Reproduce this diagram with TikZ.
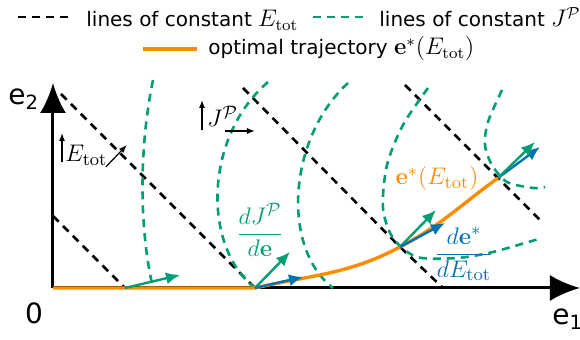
\documentclass[tikz,border=0pt]{standalone}
\usepackage[no-math]{fontspec}
\setmainfont{DejaVu Sans}
\usepackage{amsmath,amssymb}
\usepackage{tikz}
\usetikzlibrary{positioning,arrows.meta,calc}
\usepackage{xcolor}
\definecolor{plotgreen}{HTML}{009E73}
\definecolor{plotblue}{HTML}{0072B2}
\definecolor{plotorange}{HTML}{FF8C00}
\newcommand{\bigmath}[1]{{\fontsize{12}{14}\selectfont$#1$}}

\begin{document}
\begin{tikzpicture}[
    x=0.5pt, y=0.5pt,
    axis/.style={line width=1.5pt, -{Latex[length=15pt, width=13pt]}},
    edash/.style={dash pattern=on 4pt off 3pt, line width=1.3pt},
    jdash/.style={edash, plotgreen},
    traj/.style={line width=1.7pt, plotorange},
    garrow/.style={line width=1.2pt, plotgreen, -{Latex[length=7pt, width=6pt]}},
    barrow/.style={garrow, plotblue},
    tick/.style={line width=0.6pt, -{Latex[length=4pt, width=3pt]}},
    legtxt/.style={font=\fontsize{10}{12}\selectfont, inner sep=0pt, anchor=base west},
    lbl/.style={font=\fontsize{13}{15}\selectfont, inner sep=0pt},
    axlbl/.style={font=\fontsize{14}{16}\selectfont, inner sep=0pt},
]
\useasboundingbox (-53,-52) rectangle (527,288);

% legend
\node[legtxt] (legE) at (33,261) {lines of constant \bigmath{E_{\mathrm{tot}}}};
\node[legtxt] (legJ) at (326,261) {lines of constant \bigmath{J^{\mathcal{P}}}};
\node[legtxt] (legT) at (155,233) {optimal trajectory \bigmath{\mathbf{e}^*(E_{\mathrm{tot}})}};
\draw[edash] (-35,271) -- (17,271);
\draw[jdash] (260,271) -- (315,271);
\draw[traj] (90,239) -- (144,239);

% axes
\coordinate (O) at (0,0);
\coordinate (xend) at (527,0);
\coordinate (yend) at (0,205);
\draw[axis] (O) -- (xend);
\draw[axis] (O) -- (yend);
\node[axlbl, anchor=base west] (e1lbl) at (499,-37) {e\textsubscript{1}};
\node[axlbl, anchor=base west] (e2lbl) at (-45,183) {e\textsubscript{2}};
\node[axlbl] (zero) at (-19,-25) {0};

% points on the trajectory
\coordinate (T0) at (72,0);
\coordinate (T1) at (202,0);
\coordinate (T2) at (347,41);
\coordinate (T3) at (445,110);

% lines of constant E_tot
\draw[edash] (0,72) -- (T0);
\draw[edash] (8,194) -- (T1);
\draw[edash] (190,200) -- (T2) -- (390,0);
\draw[edash] (352,203) -- (T3) -- (489,66);

% lines of constant J
\draw[jdash] (100,208) .. controls (86,140) and (86,60) .. (100,0);
\draw[jdash] (215,206) .. controls (150,150) and (150,40) .. (T1);
\draw[jdash] (295,205) .. controls (235,150) and (228,40) .. (280,0);
\draw[jdash] plot[smooth] coordinates {(375,200) (350,163) (334,123) (330,80) (340,50) (364,31) (404,30) (440,36) (489,50)};
\draw[jdash] plot[smooth] coordinates {(449,198) (435,166) (432,143) (439,123) (454,106) (480,100) (492,101)};

% optimal trajectory
\draw[traj] (O) -- (T1) to[out=13, in=208] (T2) to[out=28, in=216] (T3);

% gradients
\coordinate (g0) at (127,13);
\coordinate (g1) at (237,36);
\coordinate (g2) at (383,78);
\coordinate (g3) at (482,146);
\coordinate (b1) at (250,11);
\coordinate (b2) at (392,65);
\coordinate (b3) at (487,141);
\draw[garrow] (T0) -- (g0);
\draw[garrow] (T1) -- (g1);
\draw[garrow] (T2) -- (g2);
\draw[barrow] (T1) -- (b1);
\draw[barrow] (T2) -- (b2);
\draw[barrow] (T3) -- (b3);
\draw[garrow] (T3) -- (g3);

% labels
\node[lbl, anchor=base west] (etot) at (12,126) {$E_{\mathrm{tot}}$};
\draw[tick] ([xshift=-1.5pt]etot.base west) -- ++(0,29);
\draw[tick] ([shift={(-1pt,-2.5pt)}]etot.base east) -- ++(21,22);
\node[lbl, anchor=base west] (jlbl) at (154,161) {$J^{\mathcal{P}}$};
\draw[tick] ([shift={(-2.5pt,-1.5pt)}]jlbl.base west) -- ++(0,30);
\draw[tick] ([shift={(9pt,-2pt)}]jlbl.base west) -- ++(30,0);
\node[lbl, plotgreen] (djde) at (207,58) {$\dfrac{dJ^{\mathcal{P}}}{d\mathbf{e}}$};
\node[lbl, plotorange] (eopt) at (384,109) {$\mathbf{e}^*(E_{\mathrm{tot}})$};
\node[lbl, plotblue] (dedE) at (411,34) {$\dfrac{d\mathbf{e}^*}{dE_{\mathrm{tot}}}$};

\end{tikzpicture}
\end{document}
